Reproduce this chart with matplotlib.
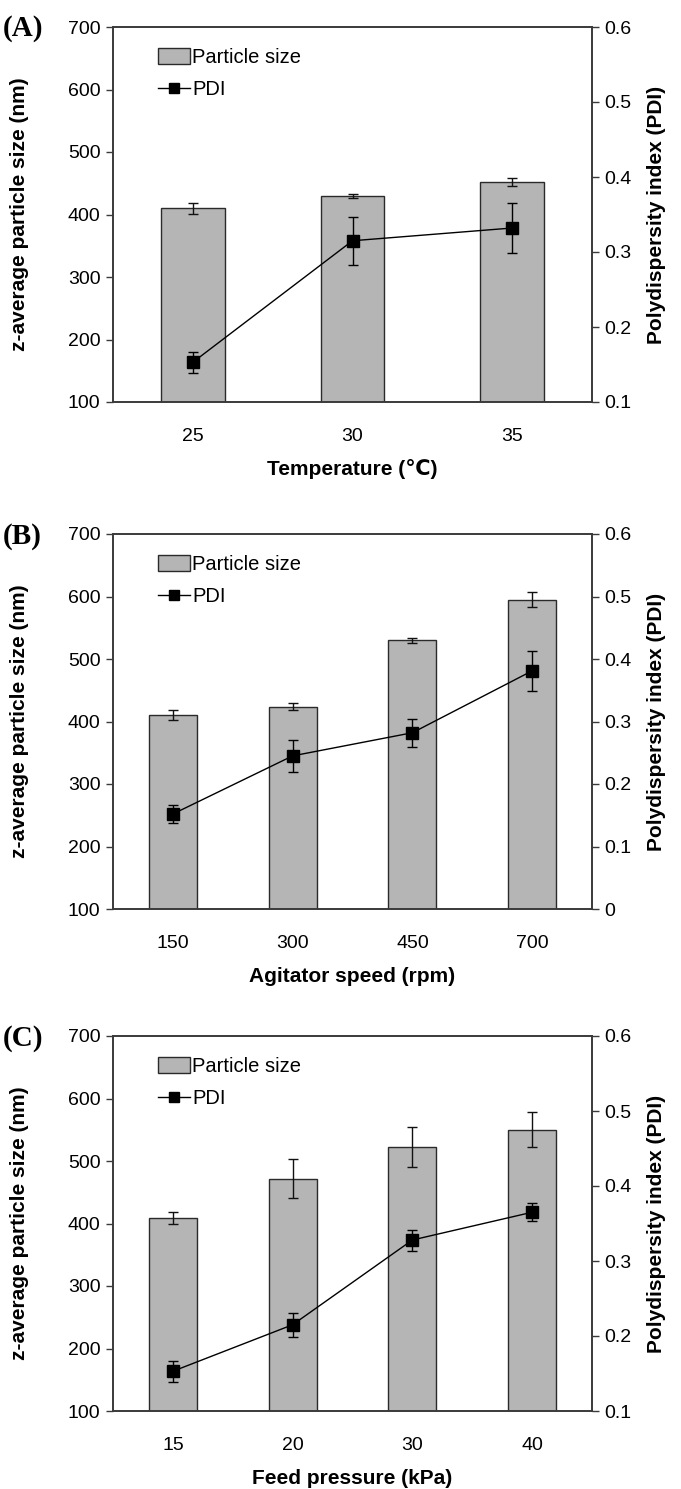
import matplotlib
matplotlib.use("Agg")
import matplotlib.pyplot as plt
from matplotlib.patches import Patch
from matplotlib.lines import Line2D

# ---- data ----
temp_labels = ["25", "30", "35"]
temp_size = [410, 430, 452]
temp_size_err = [9, 3, 6]
temp_pdi = [0.153, 0.315, 0.332]
temp_pdi_err = [0.014, 0.032, 0.034]

agit_labels = ["150", "300", "450", "700"]
agit_size = [410, 424, 530, 595]
agit_size_err = [8, 5, 4, 12]
agit_pdi = [0.152, 0.245, 0.282, 0.381]
agit_pdi_err = [0.014, 0.025, 0.022, 0.032]

feed_labels = ["15", "20", "30", "40"]
feed_size = [409, 472, 523, 550]
feed_size_err = [9, 31, 32, 28]
feed_pdi = [0.153, 0.215, 0.328, 0.365]
feed_pdi_err = [0.014, 0.016, 0.014, 0.012]

panels = [
    dict(tag="(A)", labels=temp_labels, size=temp_size, size_err=temp_size_err,
         pdi=temp_pdi, pdi_err=temp_pdi_err, xlabel="Temperature (\u2103)",
         rlim=(0.1, 0.6), rticks=[0.1, 0.2, 0.3, 0.4, 0.5, 0.6], top=27),
    dict(tag="(B)", labels=agit_labels, size=agit_size, size_err=agit_size_err,
         pdi=agit_pdi, pdi_err=agit_pdi_err, xlabel="Agitator speed (rpm)",
         rlim=(0.0, 0.6), rticks=[0, 0.1, 0.2, 0.3, 0.4, 0.5, 0.6], top=534),
    dict(tag="(C)", labels=feed_labels, size=feed_size, size_err=feed_size_err,
         pdi=feed_pdi, pdi_err=feed_pdi_err, xlabel="Feed pressure (kPa)",
         rlim=(0.1, 0.6), rticks=[0.1, 0.2, 0.3, 0.4, 0.5, 0.6], top=1036),
]

W, H = 681, 1489
fig = plt.figure(figsize=(W / 100, H / 100), dpi=100)
plt.rcParams['font.family'] = ['Liberation Sans', 'DejaVu Sans']

FAM = ['Liberation Sans', 'DejaVu Sans']
spine_c = "#3a3a3a"
bar_c = "#b5b5b5"
left_px, right_px, h_px = 113, 592, 375
tick_fs = 14
lab_fs = 15

for p in panels:
    top = p["top"]
    bottom = top + h_px
    ax = fig.add_axes([left_px / W, 1 - bottom / H, (right_px - left_px) / W, h_px / H])
    n = len(p["labels"])
    x = list(range(n))
    ax.bar(x, p["size"], width=0.4, color=bar_c, edgecolor="#2a2a2a", linewidth=1.0,
           yerr=p["size_err"], capsize=3.5,
           error_kw=dict(ecolor="#111111", elinewidth=1.0, capthick=1.0), zorder=2)
    ax.set_xlim(-0.5, n - 0.5)
    ax.set_ylim(100, 700)
    ax.set_yticks([100, 200, 300, 400, 500, 600, 700])
    ax.set_xticks(x)
    ax.set_xticklabels(p["labels"])
    ax.tick_params(axis="x", length=0, pad=19, labelsize=tick_fs)
    ax.tick_params(axis="y", direction="out", length=5, width=1, color=spine_c,
                   pad=4, labelsize=tick_fs)
    for s in ax.spines.values():
        s.set_color(spine_c)
        s.set_linewidth(1.2)

    ax2 = ax.twinx()
    ax2.errorbar(x, p["pdi"], yerr=p["pdi_err"], color="black", marker="s",
                 markersize=8, linewidth=1.0, elinewidth=1.0, capsize=3.5,
                 capthick=1.0, zorder=3)
    ax2.set_ylim(*p["rlim"])
    ax2.set_yticks(p["rticks"])
    ax2.set_yticklabels([("%g" % v) for v in p["rticks"]])
    ax2.tick_params(axis="y", direction="out", length=5, width=1, color=spine_c,
                    pad=4, labelsize=tick_fs)
    for s in ax2.spines.values():
        s.set_color(spine_c)
        s.set_linewidth(1.2)

    handles = [Patch(facecolor=bar_c, edgecolor="#2a2a2a", linewidth=1.0),
               Line2D([], [], color="black", marker="s", markersize=7, linewidth=1.0)]
    ax.legend(handles, ["Particle size", "PDI"], loc="upper left",
              bbox_to_anchor=((158 - left_px) / (right_px - left_px), 1 - 21 / h_px),
              frameon=False, fontsize=14.5, handlelength=1.6, handleheight=0.8,
              handletextpad=0.1, labelspacing=0.65, borderaxespad=0, borderpad=0)

    cy = 1 - (top + h_px / 2) / H
    fig.text(20 / W, cy, "z-average particle size (nm)", rotation=90, ha="center",
             va="center", fontsize=lab_fs, fontweight="bold", family=FAM)
    fig.text(657 / W, cy, "Polydispersity index (PDI)", rotation=90, ha="center",
             va="center", fontsize=lab_fs, fontweight="bold", family=FAM)
    fig.text((left_px + right_px) / 2 / W, 1 - (bottom + 67) / H, p["xlabel"],
             ha="center", va="center", fontsize=lab_fs, fontweight="bold", family=FAM)
    fig.text(3 / W, 1 - (top + 2) / H, p["tag"], ha="left", va="center",
             fontsize=21, fontweight="bold", family=["Liberation Serif", "DejaVu Serif"])

fig.savefig("out.png", dpi=100)
